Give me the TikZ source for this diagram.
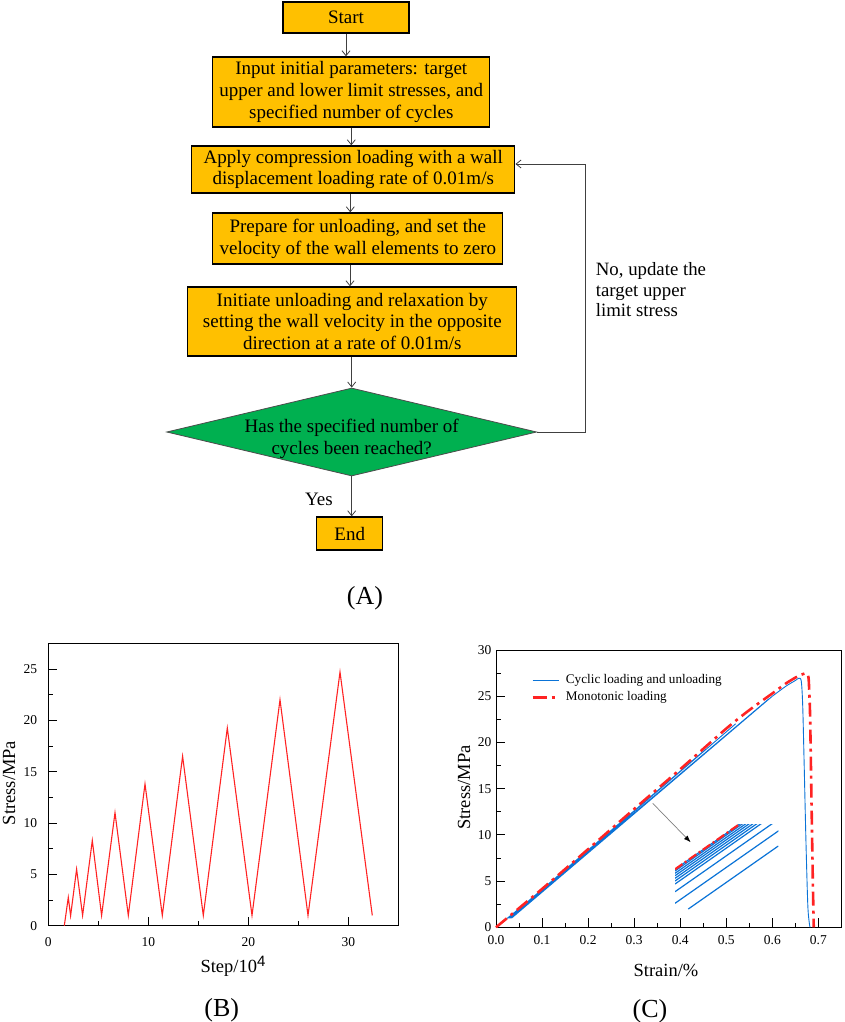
\documentclass[tikz,border=0pt]{standalone}
\usepackage{fontspec}
\setmainfont{Liberation Serif}
\setsansfont{Liberation Sans}
\usetikzlibrary{arrows.meta,shapes.geometric,calc}
\definecolor{boxorange}{RGB}{255,192,0}
\definecolor{diagreen}{RGB}{0,176,80}
\definecolor{plotred}{RGB}{255,35,35}
\definecolor{plotblue}{RGB}{10,115,215}
\newcommand\boxfont{\fontsize{19}{21.8}\selectfont}
\newcommand\notefont{\fontsize{18.8}{20.5}\selectfont}
\newcommand\tickfont{\fontsize{13.5}{15}\selectfont}
\newcommand\labfont{\fontsize{18.5}{20}\selectfont}
\newcommand\legfont{\fontsize{13.2}{15}\selectfont}
\newcommand\capfont{\fontsize{26}{28}\selectfont}
\begin{document}
\begin{tikzpicture}[x=1pt,y=-1pt,
  box/.style={draw=black,line width=1.3pt,fill=boxorange,inner sep=0pt,align=center,font=\boxfont},
  flow/.style={draw=black!75,line width=0.8pt,-{Straight Barb[length=5pt,width=8pt]}},
  txt/.style={inner sep=0pt},
  frame/.style={line width=0.9pt},
  tick/.style={line width=0.8pt},
  ticklab/.style={inner sep=0pt,font=\tickfont},
  redline/.style={plotred,line width=1.1pt,line join=miter},
  blueline/.style={plotblue,line width=0.9pt},
  dashdot/.style={plotred,line width=2.6pt,dash pattern=on 14pt off 5pt on 3pt off 5pt}]
\useasboundingbox (0,0) rectangle (844,1022);

% ---------------- Flowchart (A)
\node[box,minimum width=126pt,minimum height=31pt] (start) at (346,17.5) {Start};
\node[box,minimum width=277pt,minimum height=70pt] (input) at (351.3,92)
  {Input initial parameters: target\\upper and lower limit stresses, and\\specified number of cycles};
\node[box,minimum width=323pt,minimum height=47pt] (apply) at (353.3,169.5)
  {Apply compression loading with a wall\\displacement loading rate of 0.01m/s};
\node[box,minimum width=290pt,minimum height=51pt] (prep) at (357.8,238.5)
  {Prepare for unloading, and set the\\velocity of the wall elements to zero};
\node[box,minimum width=329pt,minimum height=69pt] (init) at (352.3,321.5)
  {Initiate unloading and relaxation by\\setting the wall velocity in the opposite\\direction at a rate of 0.01m/s};
\node[diamond,draw=black!70,line width=0.8pt,fill=diagreen,minimum width=370pt,minimum height=88pt,inner sep=0pt] (dec) at (351.7,432) {};
\node[txt,font=\boxfont,align=center] (dectext) at (351.7,438.5) {Has the specified number of\\cycles been reached?};
\node[box,minimum width=66pt,minimum height=33pt] (end) at (349.7,533.5) {End};

\draw[flow] (start.south) -- (start.south |- input.north);
\draw[flow] (input.south) -- (input.south |- apply.north);
\draw[flow] ([xshift=-3pt]apply.south) -- ([xshift=-3pt]apply.south |- prep.north);
\draw[flow] ([xshift=-7.8pt]prep.south) -- ([xshift=-7.8pt]prep.south |- init.north);
\draw[flow] ([xshift=-0.6pt]init.south) -- ([xshift=-0.6pt]init.south |- dec.north);
\draw[flow] (dec.south) -- (dec.south |- end.north);
\draw[flow] (dec.east) -- ++(48.3,0) |- ([yshift=5.5pt]apply.east);

\node[txt,font=\notefont,align=left,anchor=west] (note) at (595.7,290) {No, update the\\target upper\\limit stress};
\node[txt,font=\boxfont] (yes) at (319,499) {Yes};
\node[txt,font=\capfont] (capA) at (365,598) {(A)};

% ---------------- Plot (B)
\begin{scope}[shift={(48.3pt,-925.7pt)},x=10pt,y=10.27pt]
  \draw[frame] (0,0) rectangle (35,27.5);
  \foreach \t in {5,15,25} \draw[tick] (\t,0) -- ++(0pt,4.5pt);
  \foreach \t in {10,20,30} \draw[tick] (\t,0) -- ++(0pt,9pt);
  \foreach \t in {0,10,20,30} \node[ticklab,yshift=-16.3pt] at (\t,0) {\t};
  \foreach \s in {2.5,7.5,12.5,17.5,22.5} \draw[tick] (0,\s) -- ++(4.5pt,0pt);
  \foreach \s in {5,10,15,20,25} \draw[tick] (0,\s) -- ++(9pt,0pt);
  \foreach \s in {0,5,10,15,20,25} \node[ticklab,anchor=east,xshift=-11pt] at (0,\s) {\s};
  \draw[redline] plot coordinates {(1.6,0) (2.0,2.76) (2.23,0.97) (2.83,5.5) (3.43,1) (4.4,8.3) (5.33,1)
    (6.67,11.0) (8.0,1) (9.67,13.8) (11.4,1) (13.43,16.5) (15.5,1) (17.9,19.25) (20.37,1)
    (23.17,22.0) (25.97,1) (29.17,24.7) (32.4,1)};
\end{scope}
\node[txt,font=\labfont,rotate=90] (bylab) at (9.2,783) {Stress/MPa};
\node[txt,font=\labfont] (bxlab) at (233,966.7) {Step/10\raisebox{6pt}{\fontsize{15}{15}\selectfont\sffamily 4}};
\node[txt,font=\capfont] (capB) at (221.7,1010) {(B)};

% ---------------- Plot (C)
\begin{scope}[shift={(496pt,-927.3pt)},x=460.5pt,y=9.243pt]
  \draw[frame] (0,0) rectangle (0.75,30);
  \foreach \t in {0.05,0.15,0.25,0.35,0.45,0.55,0.65} \draw[tick] (\t,0) -- ++(0pt,4.5pt);
  \foreach \t in {0.1,0.2,0.3,0.4,0.5,0.6,0.7} \draw[tick] (\t,0) -- ++(0pt,9pt);
  \foreach \t in {0.0,0.1,0.2,0.3,0.4,0.5,0.6,0.7} \node[ticklab,yshift=-12.5pt] at (\t,0) {\t};
  \foreach \s in {2.5,7.5,12.5,17.5,22.5,27.5} \draw[tick] (0,\s) -- ++(4.5pt,0pt);
  \foreach \s in {5,10,15,20,25} \draw[tick] (0,\s) -- ++(9pt,0pt);
  \foreach \s in {0,5,10,15,20,25,30} \node[ticklab,anchor=east,xshift=-4.5pt] at (0,\s) {\s};
  % cyclic loading and unloading
  \draw[blueline,line join=round] plot coordinates {(0,0) (0.069,2.76) (0.025,1) (0.136,5.5) (0.026,1)
    (0.201,8.3) (0.027,1) (0.263,11.0) (0.027,1) (0.328,13.8) (0.028,1) (0.392,16.5) (0.029,1)
    (0.455,19.25) (0.030,1) (0.520,22.0) (0.031,1) (0.592,24.7) (0.034,1) (0.600,25.0)};
  \draw[blueline] plot[smooth,tension=0.5] coordinates {(0.600,25.0) (0.63,26.1) (0.65,26.7) (0.658,26.95)
    (0.663,26.6) (0.666,24) (0.669,18) (0.673,9.4) (0.677,2.5) (0.680,0.6) (0.682,0)};
  % monotonic loading
  \draw[dashdot] plot[smooth,tension=0.4] coordinates {(0,0) (0.1,4.15) (0.2,8.45) (0.3,12.8) (0.4,17.1)
    (0.5,21.5) (0.55,23.5) (0.6,25.3) (0.63,26.4) (0.655,27.15) (0.67,27.45) (0.676,27.4)
    (0.679,26.8) (0.682,23) (0.685,14) (0.688,5) (0.690,0)};
\end{scope}
% legend
\draw[blueline,line width=1pt] (532.7,680) -- (559.3,680);
\node[txt,font=\legfont,anchor=west] (leg1) at (565.7,680.7) {Cyclic loading and unloading};
\draw[dashdot] (532.7,697.3) -- (559.3,697.3);
\node[txt,font=\legfont,anchor=west] (leg2) at (565.7,697.3) {Monotonic loading};
% inset
\begin{scope}
  \clip (675,824) rectangle (778.3,909);
  \foreach \y in {869.3,871,873.3,875.7,878.3,881,884,891.7,903.3}
    \draw[plotblue,line width=1.2pt] (675,\y) -- ++(150,-105);
  \draw[plotblue,line width=1.2pt] (688.3,909) -- (778.3,846);
  \draw[dashdot,line width=2.2pt,dash pattern=on 9pt off 3pt on 2pt off 3pt] (675,869.3) -- ++(80,-56);
\end{scope}
\coordinate (arrS) at (652.7,803.3);
\coordinate (arrE) at (690.7,842.3);
\draw[gray,line width=0.7pt,-{Latex[length=7pt,width=5pt,black]}] (arrS) -- (arrE);
\node[txt,font=\labfont,rotate=90] (cylab) at (464,787.5) {Stress/MPa};
\node[txt,font=\labfont] (cxlab) at (666,970) {Strain/\%};
\node[txt,font=\capfont] (capC) at (650,1011.7) {(C)};
\end{tikzpicture}
\end{document}
